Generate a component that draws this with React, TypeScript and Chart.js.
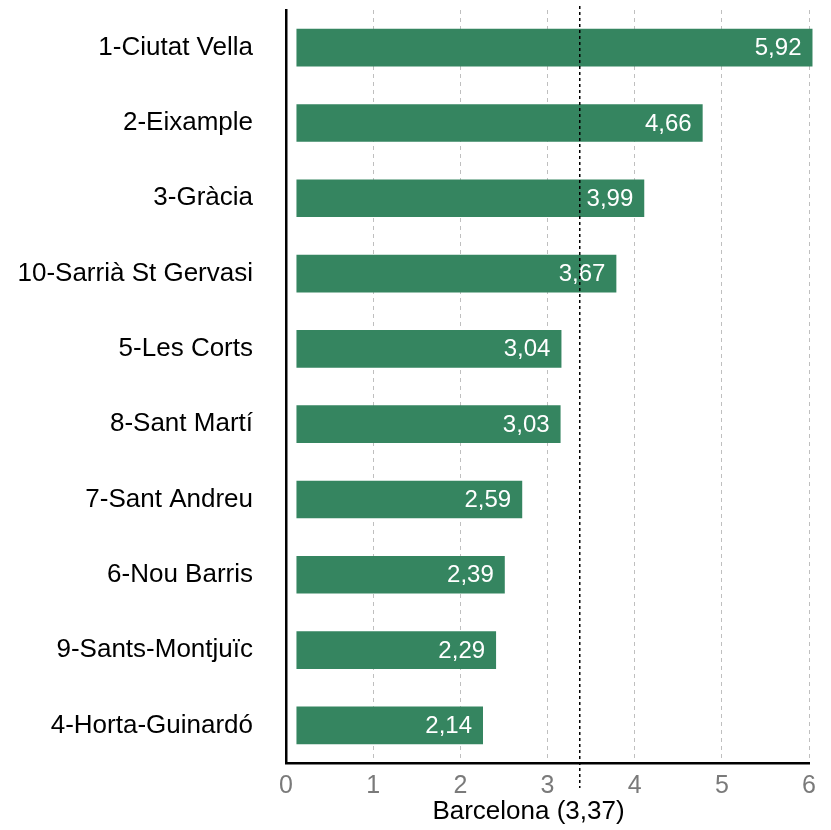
import React, { useEffect, useRef } from "react";
import { Chart, registerables } from "chart.js";

Chart.register(...registerables);

const districts = [
  "1-Ciutat Vella",
  "2-Eixample",
  "3-Gràcia",
  "10-Sarrià St Gervasi",
  "5-Les Corts",
  "8-Sant Martí",
  "7-Sant Andreu",
  "6-Nou Barris",
  "9-Sants-Montjuïc",
  "4-Horta-Guinardó",
];
const values = [5.92, 4.66, 3.99, 3.67, 3.04, 3.03, 2.59, 2.39, 2.29, 2.14];
const barStart = 0.12;
const cityAverage = 3.37;
const cityLabel = "Barcelona (3,37)";
const xMin = 0;
const xMax = 6;

const BAR_COLOR = "rgb(53,133,96)";
const FONT = "'Liberation Sans', Arial, Helvetica, sans-serif";

const fmt = (v: number) => v.toFixed(2).replace(".", ",");

export default function App() {
  const ref = useRef<HTMLCanvasElement | null>(null);

  useEffect(() => {
    if (!ref.current) return;

    const overlay = {
      id: "overlay",
      afterDatasetsDraw(chart: any) {
        const ctx = chart.ctx;
        const meta = chart.getDatasetMeta(0);
        ctx.save();
        ctx.fillStyle = "#ffffff";
        ctx.font = `24px ${FONT}`;
        ctx.textAlign = "right";
        ctx.textBaseline = "middle";
        meta.data.forEach((bar: any, i: number) => {
          ctx.fillText(fmt(values[i]), bar.x - 11, bar.y + 1);
        });
        ctx.restore();
      },
      afterDraw(chart: any) {
        const ctx = chart.ctx;
        const x = chart.scales.x.getPixelForValue(cityAverage);
        const area = chart.chartArea;
        ctx.save();
        ctx.strokeStyle = "#000";
        ctx.lineWidth = 1.5;
        ctx.setLineDash([3, 3]);
        ctx.beginPath();
        ctx.moveTo(x, area.top - 4);
        ctx.lineTo(x, area.bottom + 25);
        ctx.stroke();
        ctx.setLineDash([]);
        ctx.fillStyle = "#000";
        ctx.font = `26px ${FONT}`;
        ctx.textAlign = "center";
        ctx.textBaseline = "middle";
        ctx.fillText(cityLabel, (area.left + area.right) / 2 - 19, 812);
        ctx.restore();
      },
    };

    const chart = new Chart(ref.current, {
      type: "bar",
      data: {
        labels: districts,
        datasets: [
          {
            data: values.map((v) => [barStart, barStart + v]) as any,
            backgroundColor: BAR_COLOR,
            borderWidth: 0,
            categoryPercentage: 1,
            barPercentage: 0.5,
            clip: false as any,
          },
        ],
      },
      options: {
        indexAxis: "y",
        animation: false,
        responsive: false,
        maintainAspectRatio: false,
        layout: { padding: { left: 0, right: 22, top: 10, bottom: 0 } },
        plugins: {
          legend: { display: false },
          tooltip: { enabled: false },
        },
        scales: {
          x: {
            min: xMin,
            max: xMax,
            z: 1,
            ticks: {
              stepSize: 1,
              color: "#7a7a7a",
              font: { family: FONT, size: 25 },
              padding: 8,
            },
            grid: {
              drawTicks: false,
              color: (c: any) =>
                c.tick && c.tick.value === 0 ? "rgba(0,0,0,0)" : "rgba(0,0,0,0.25)",
              lineWidth: 1,
            } as any,
            border: { color: "#000", width: 2.5, dash: [4, 4] } as any,
            afterFit: (s: any) => {
              s.height = 67;
            },
          },
          y: {
            grid: { display: false, drawTicks: true, tickLength: 33 },
            border: { color: "#000", width: 2.5 },
            ticks: {
              color: "#000",
              font: { family: FONT, size: 26, lineHeight: 0.5 },
              padding: 0,
            },
            afterFit: (s: any) => {
              s.width = 286;
            },
          },
        },
      },
      plugins: [overlay],
    });

    return () => chart.destroy();
  }, []);

  return (
    <div style={{ position: "fixed", left: 0, top: 0, width: 831, height: 830, background: "#fff" }}>
      <canvas ref={ref} width={831} height={830} style={{ width: 831, height: 830 }} />
    </div>
  );
}
